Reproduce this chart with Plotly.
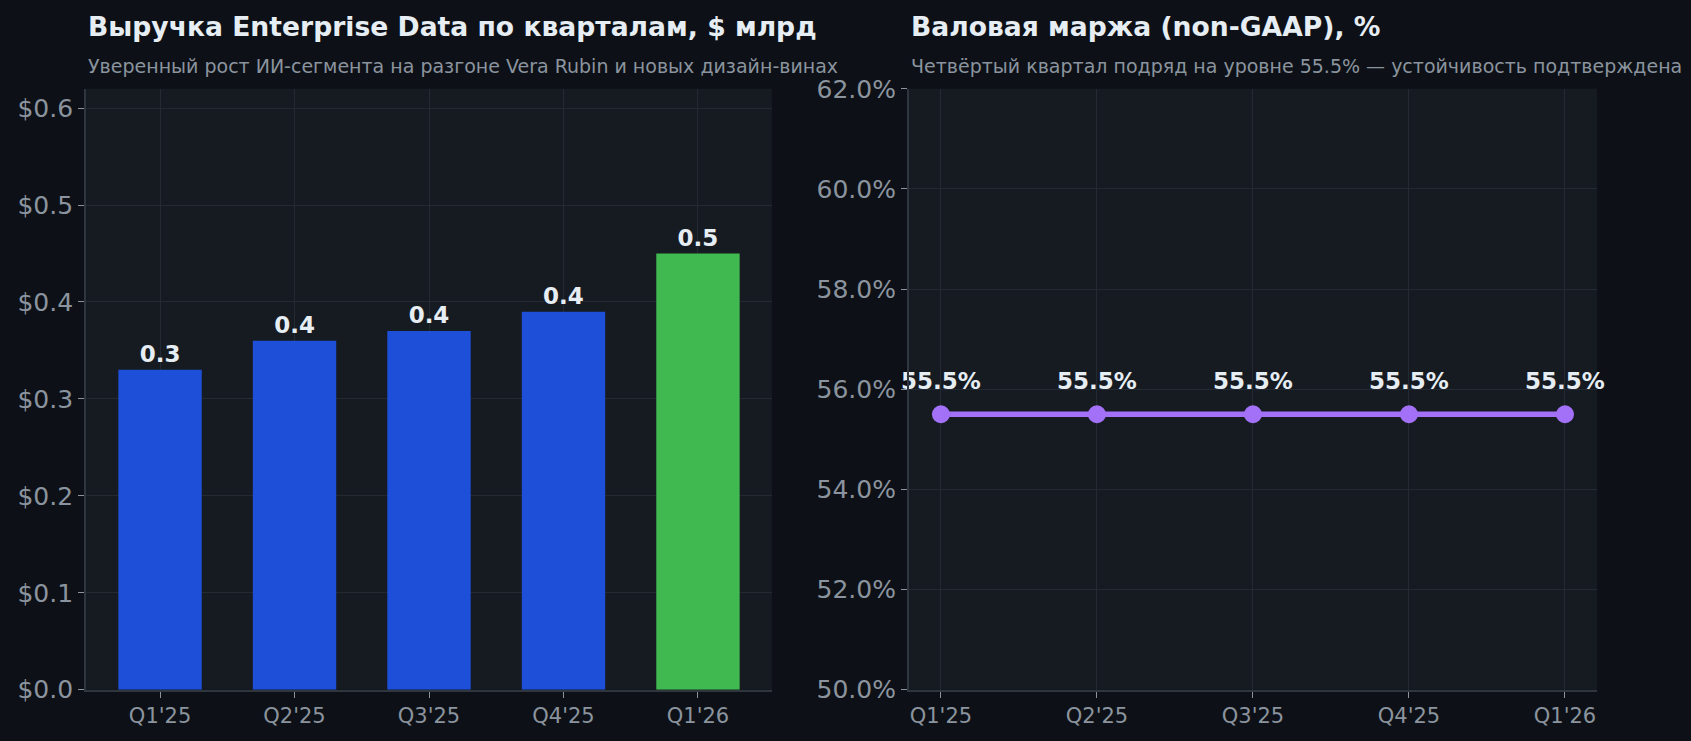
import plotly.graph_objects as go

quarters = ["Q1'25", "Q2'25", "Q3'25", "Q4'25", "Q1'26"]
revenue = [0.33, 0.36, 0.37, 0.39, 0.45]
margin = [55.5, 55.5, 55.5, 55.5, 55.5]
bar_colors = ["#1d4fd8", "#1d4fd8", "#1d4fd8", "#1d4fd8", "#3fb950"]

rev_tickvals = [0, 0.1, 0.2, 0.3, 0.4, 0.5, 0.6]
rev_ticktext = ["$0.0", "$0.1", "$0.2", "$0.3", "$0.4", "$0.5", "$0.6"]
mar_tickvals = [50, 52, 54, 56, 58, 60, 62]
mar_ticktext = ["50.0%", "52.0%", "54.0%", "56.0%", "58.0%", "60.0%", "62.0%"]

title_left = "Выручка Enterprise Data по кварталам, $ млрд"
sub_left = "Уверенный рост ИИ-сегмента на разгоне Vera Rubin и новых дизайн-винах"
title_right = "Валовая маржа (non-GAAP), %"
sub_right = "Четвёртый квартал подряд на уровне 55.5% — устойчивость подтверждена"

FONT = "DejaVu Sans"
PAPER = "#0d1117"
PLOT = "#161b22"
GRID = "#242a33"
TICK = "#8b949e"
TEXT = "#e6edf3"
PURPLE = "#a371f7"
W, H = 1691, 741

fig = go.Figure()
fig.add_trace(go.Bar(
    x=quarters, y=revenue, marker=dict(color=bar_colors, line=dict(width=0)),
    width=0.62, text=revenue, texttemplate="%{y:.1f}", textposition="outside",
    textfont=dict(family=FONT, size=23, color=TEXT, weight="bold"),
    cliponaxis=False, xaxis="x", yaxis="y", showlegend=False,
))
fig.add_trace(go.Scatter(
    x=quarters, y=margin, mode="lines+markers",
    line=dict(color=PURPLE, width=5.5), marker=dict(size=18, color=PURPLE),
    cliponaxis=False, xaxis="x2", yaxis="y2", showlegend=False,
))
# value labels (invisible larger markers set the label offset above the points)
fig.add_trace(go.Scatter(
    x=quarters, y=margin, mode="markers+text",
    marker=dict(size=29, color="rgba(0,0,0,0)"),
    text=[f"{v:.1f}%" for v in margin], textposition="top center",
    textfont=dict(family=FONT, size=23, color=TEXT, weight="bold"),
    cliponaxis=False, xaxis="x2", yaxis="y2", showlegend=False, hoverinfo="skip",
))

axis_common = dict(
    showgrid=True, gridcolor=GRID, gridwidth=1, showline=True, linecolor="#30363d",
    linewidth=2, ticks="outside", ticklen=6, tickcolor=TICK, zeroline=False,
)
Y_DOM = [0.051, 0.895]
fig.update_layout(
    width=W, height=H,
    paper_bgcolor=PAPER, plot_bgcolor=PLOT,
    margin=dict(l=0, r=0, t=0, b=0),
    font=dict(family=FONT, color=TICK),
    xaxis=dict(domain=[0.0509, 0.4565], range=[-0.55, 4.55], anchor="y",
               tickfont=dict(size=21, color=TICK), **axis_common),
    yaxis=dict(domain=Y_DOM, range=[0, 0.62], anchor="x",
               tickmode="array", tickvals=rev_tickvals, ticktext=rev_ticktext,
               tickfont=dict(size=25, color=TICK), **axis_common),
    xaxis2=dict(domain=[0.5375, 0.9444], range=[-0.205, 4.205], anchor="y2",
                tickfont=dict(size=21, color=TICK), **axis_common),
    yaxis2=dict(domain=Y_DOM, range=[50, 62], anchor="x2",
                tickmode="array", tickvals=mar_tickvals, ticktext=mar_ticktext,
                tickfont=dict(size=25, color=TICK), **axis_common),
    annotations=[
        dict(text=f"<b>{title_left}</b>", x=0.0509, y=0.983, xref="paper", yref="paper",
             xanchor="left", yanchor="middle", showarrow=False,
             font=dict(family=FONT, size=26.6, color=TEXT)),
        dict(text=sub_left, x=0.0509, y=0.927, xref="paper", yref="paper",
             xanchor="left", yanchor="middle", showarrow=False,
             font=dict(family=FONT, size=19, color=TICK)),
        dict(text=f"<b>{title_right}</b>", x=0.5375, y=0.983, xref="paper", yref="paper",
             xanchor="left", yanchor="middle", showarrow=False,
             font=dict(family=FONT, size=26.6, color=TEXT)),
        dict(text=sub_right, x=0.5375, y=0.927, xref="paper", yref="paper",
             xanchor="left", yanchor="middle", showarrow=False,
             font=dict(family=FONT, size=19, color=TICK)),
    ],
)

fig.write_html(
    "out.html",
    config={"displayModeBar": False},
    post_script="document.body.style.margin='0';document.body.style.background='#0d1117';"
                "document.documentElement.style.overflow='hidden';",
)
